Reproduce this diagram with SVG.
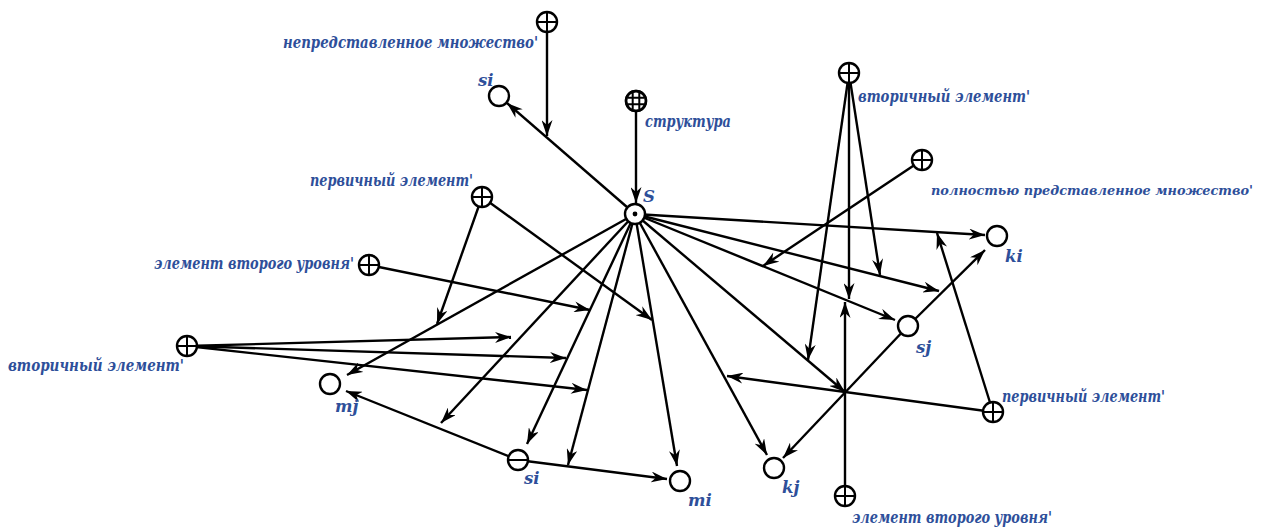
<svg xmlns="http://www.w3.org/2000/svg" width="1268" height="527" viewBox="0 0 1268 527">
<style>
.e{fill:none;stroke:#000;stroke-width:2.4;marker-end:url(#arr)}
.n{fill:#fff;stroke:#000;stroke-width:2.4}
.x{stroke:#000;stroke-width:2;fill:none}
.t{font-family:"DejaVu Serif","Liberation Serif",serif;font-weight:bold;font-style:italic;font-size:16.5px;fill:#2e4f9a}
</style>
<defs>
<marker id="arr" viewBox="0 0 16 11" refX="16" refY="5.5" markerWidth="16" markerHeight="11" markerUnits="userSpaceOnUse" orient="auto">
<path d="M0,0 L16,5.5 L0,11 L5,5.5 Z" fill="#000"/>
</marker>
<clipPath id="cc"><circle cx="0" cy="0" r="9"/></clipPath>
</defs>
<rect width="1268" height="527" fill="#fff"/>
<g id="connectors">
<path class="e" d="M636,111 L636,203"/>
<path class="e" d="M547,32 L547,136"/>
<path class="e" d="M635,214 L507,103"/>
<path class="e" d="M635,214 L985,235"/>
<path class="e" d="M993,412 L937,233"/>
<path class="e" d="M635,214 L939,291"/>
<path class="e" d="M908,326 L985,250"/>
<path class="e" d="M849,73 L880,275"/>
<path class="e" d="M849,73 L849,299"/>
<path class="e" d="M849,73 L808,360"/>
<path class="e" d="M635,214 L895,320"/>
<path class="e" d="M922,160 L763,266"/>
<path class="e" d="M845,496 L845,302"/>
<path class="e" d="M635,214 L845,392"/>
<path class="e" d="M908,326 L783,458"/>
<path class="e" d="M993,412 L727,376"/>
<path class="e" d="M635,214 L767,455"/>
<path class="e" d="M635,214 L677,466"/>
<path class="e" d="M518,460 L667,479"/>
<path class="e" d="M635,214 L568,465"/>
<path class="e" d="M635,214 L527,444"/>
<path class="e" d="M635,214 L441,423"/>
<path class="e" d="M518,460 L346,391"/>
<path class="e" d="M635,214 L347,375"/>
<path class="e" d="M482,197 L437,324"/>
<path class="e" d="M482,197 L652,320"/>
<path class="e" d="M369,265 L590,310"/>
<path class="e" d="M187,346 L511,337"/>
<path class="e" d="M187,346 L566,358"/>
<path class="e" d="M187,346 L587,390"/>
</g>
<g id="node-S" transform="translate(635,214)">
<circle class="n" r="10"/><circle r="2.4" fill="#000"/>
<text class="t" x="8" y="-12">S</text>
</g>
<g id="node-struktura" transform="translate(636,101)">
<circle class="n" r="10"/>
<g clip-path="url(#cc)"><path class="x" stroke-width="1.4" d="M-3.3,-10 V10 M3.3,-10 V10 M-10,-3.3 H10 M-10,3.3 H10"/></g>
<circle r="10" fill="none" stroke="#000" stroke-width="2.4"/>
<text class="t" x="9" y="26" textLength="86" lengthAdjust="spacingAndGlyphs">структура</text>
</g>
<g id="node-nepredstavlennoe" transform="translate(547,22)">
<circle class="n" r="10"/><path class="x" d="M-10,0 H10 M0,-10 V10"/>
<text class="t" x="-264" y="26" textLength="255" lengthAdjust="spacingAndGlyphs">непредставленное множество'</text>
</g>
<g id="node-si-top" transform="translate(499,96)">
<circle class="n" r="10"/>
<text class="t" x="-21" y="-10">si</text>
</g>
<g id="node-pervichny-1" transform="translate(482,197)">
<circle class="n" r="10"/><path class="x" d="M-10,0 H10 M0,-10 V10"/>
<text class="t" x="-172" y="-11" textLength="163" lengthAdjust="spacingAndGlyphs">первичный элемент'</text>
</g>
<g id="node-element-1" transform="translate(369,265)">
<circle class="n" r="10"/><path class="x" d="M-10,0 H10 M0,-10 V10"/>
<text class="t" x="-215" y="4" textLength="200" lengthAdjust="spacingAndGlyphs">элемент второго уровня'</text>
</g>
<g id="node-vtorichny-1" transform="translate(187,346)">
<circle class="n" r="10"/><path class="x" d="M-10,0 H10 M0,-10 V10"/>
<text class="t" x="-179" y="25" textLength="176" lengthAdjust="spacingAndGlyphs">вторичный элемент'</text>
</g>
<g id="node-mj" transform="translate(330,384)">
<circle class="n" r="10"/>
<text class="t" x="5" y="28">mj</text>
</g>
<g id="node-si-bottom" transform="translate(518,460)">
<circle class="n" r="10"/><path class="x" d="M-10,0 H10"/>
<text class="t" x="6" y="24">si</text>
</g>
<g id="node-mi" transform="translate(680,481)">
<circle class="n" r="10"/>
<text class="t" x="8" y="25">mi</text>
</g>
<g id="node-kj" transform="translate(774,468)">
<circle class="n" r="10"/>
<text class="t" x="8" y="25">kj</text>
</g>
<g id="node-element-2" transform="translate(845,496)">
<circle class="n" r="10"/><path class="x" d="M-10,0 H10 M0,-10 V10"/>
<text class="t" x="7" y="27" textLength="200" lengthAdjust="spacingAndGlyphs">элемент второго уровня'</text>
</g>
<g id="node-pervichny-2" transform="translate(993,412)">
<circle class="n" r="10"/><path class="x" d="M-10,0 H10 M0,-10 V10"/>
<text class="t" x="9" y="-10" textLength="163" lengthAdjust="spacingAndGlyphs">первичный элемент'</text>
</g>
<g id="node-sj" transform="translate(908,326)">
<circle class="n" r="10"/>
<text class="t" x="8" y="27">sj</text>
</g>
<g id="node-ki" transform="translate(997,236)">
<circle class="n" r="10"/>
<text class="t" x="8" y="26">ki</text>
</g>
<g id="node-polnostyu" transform="translate(922,160)">
<circle class="n" r="10"/><path class="x" d="M-10,0 H10 M0,-10 V10"/>
<text class="t" x="9" y="35" style="font-size:13.3px" textLength="322" lengthAdjust="spacingAndGlyphs">полностью представленное множество'</text>
</g>
<g id="node-vtorichny-2" transform="translate(849,73)">
<circle class="n" r="10"/><path class="x" d="M-10,0 H10 M0,-10 V10"/>
<text class="t" x="9" y="29" textLength="172" lengthAdjust="spacingAndGlyphs">вторичный элемент'</text>
</g>
</svg>
